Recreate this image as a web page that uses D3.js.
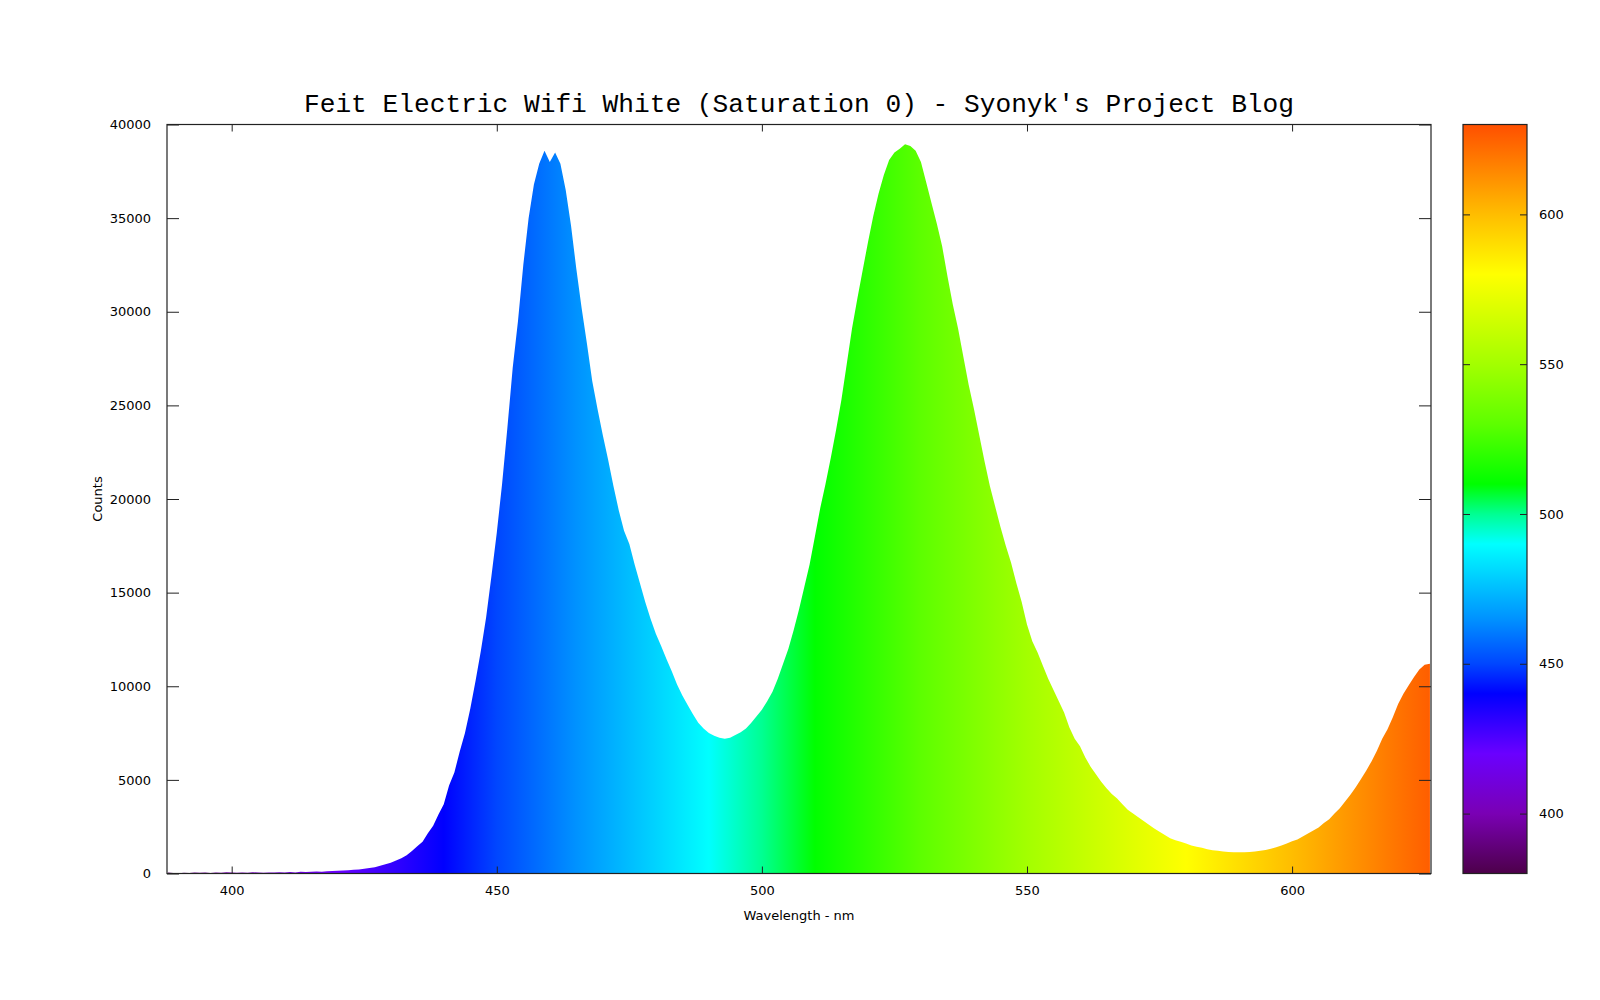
<!DOCTYPE html>
<html>
<head>
<meta charset="utf-8">
<script src="https://cdn.jsdelivr.net/npm/d3@7"></script>
<style>
  html, body { margin: 0; padding: 0; background: #ffffff; }
  svg { display: block; }
</style>
</head>
<body>
<svg id="chart" width="1600" height="1000"></svg>
<script>
// ---------- data ----------
const wavelengths = [
  388,389,390,391,392,393,394,395,396,397,398,399,
  400,401,402,403,404,405,406,407,408,409,410,411,412,413,414,415,416,417,418,419,
  420,421,422,423,424,425,426,427,428,429,430,431,432,433,434,435,436,437,438,439,
  440,441,442,443,444,445,446,447,448,449,450,451,452,453,454,455,456,457,458,459,
  460,461,462,463,464,465,466,467,468,469,470,471,472,473,474,475,476,477,478,479,
  480,481,482,483,484,485,486,487,488,489,490,491,492,493,494,495,496,497,498,499,
  500,501,502,503,504,505,506,507,508,509,510,511,512,513,514,515,516,517,518,519,
  520,521,522,523,524,525,526,527,528,529,530,531,532,533,534,535,536,537,538,539,
  540,541,542,543,544,545,546,547,548,549,550,551,552,553,554,555,556,557,558,559,
  560,561,562,563,564,565,566,567,568,569,570,571,572,573,574,575,576,577,578,579,
  580,581,582,583,584,585,586,587,588,589,590,591,592,593,594,595,596,597,598,599,
  600,601,602,603,604,605,606,607,608,609,610,611,612,613,614,615,616,617,618,619,
  620,621,622,623,624,625,626
];
const counts = [
  50,30,20,40,30,60,40,50,30,60,40,70,
  50,40,60,40,70,50,40,60,50,70,60,80,60,90,80,100,110,100,120,140,
  150,160,180,200,220,260,300,340,420,500,580,700,820,980,1200,1450,1700,2150,2550,3150,
  3700,4700,5400,6500,7500,8800,10300,11900,13700,15900,18200,20800,23800,27000,29500,32500,35000,36800,37900,38600,
  38000,38500,37900,36500,34600,32300,30200,28300,26300,24800,23400,22100,20700,19400,18300,17600,16500,15500,14500,13600,
  12800,12150,11450,10800,10100,9500,9000,8500,8050,7750,7500,7350,7250,7200,7250,7400,7550,7750,8050,8400,
  8750,9200,9700,10400,11200,12000,13000,14100,15300,16500,18000,19500,20800,22200,23700,25300,27200,29100,30700,32200,
  33700,35100,36300,37300,38100,38500,38700,38950,38850,38600,38000,36900,35800,34700,33500,31900,30400,29100,27600,26100,
  24800,23400,22000,20700,19600,18500,17500,16600,15500,14500,13300,12400,11800,11100,10400,9800,9200,8600,7800,7200,
  6800,6200,5700,5300,4900,4550,4250,4000,3700,3400,3200,3000,2800,2600,2400,2230,2050,1880,1780,1700,
  1600,1500,1430,1370,1290,1240,1210,1180,1150,1140,1130,1140,1150,1180,1220,1260,1320,1400,1500,1600,
  1720,1820,1980,2130,2300,2450,2700,2900,3200,3480,3850,4200,4600,5050,5500,6000,6550,7200,7700,8350,
  9050,9600,10050,10500,10900,11150,11200
];
const xTickValues = [400, 450, 500, 550, 600];
const yTickValues = [0, 5000, 10000, 15000, 20000, 25000, 30000, 35000, 40000];
const cbTickValues = [400, 450, 500, 550, 600];
const paletteStops = [380, 400, 420, 440, 450, 465, 490, 500, 510, 530, 550, 580, 600, 630];
const paletteColors = ["#4d004a", "#7a00b4", "#6a00ff", "#0000ff", "#0046ff", "#0092ff", "#00ffff",
                       "#00ff92", "#00ff00", "#5dff00", "#a3ff00", "#ffff00", "#ffbd00", "#ff4f00"];
const titleText = "Feit Electric Wifi White (Saturation 0) - Syonyk's Project Blog";
const xLabel = "Wavelength - nm";
const yLabel = "Counts";

// ---------- layout ----------
const plot = { left: 167, right: 1431, top: 124.5, bottom: 873.5 };
const cb = { left: 1463, right: 1527 };

const svg = d3.select("#chart");
const x = d3.scaleLinear().domain([387.8, 626.2]).range([plot.left, plot.right]);
const y = d3.scaleLinear().domain([0, 40000]).range([plot.bottom, plot.top]);
const cbScale = d3.scaleLinear().domain([380, 630]).range([plot.bottom, plot.top]);
const cbDomain = cbScale.domain();

const defs = svg.append("defs");
// horizontal gradient for the spectrum fill
const gH = defs.append("linearGradient")
  .attr("id", "specGrad")
  .attr("gradientUnits", "userSpaceOnUse")
  .attr("x1", x(cbDomain[0])).attr("x2", x(cbDomain[1]))
  .attr("y1", 0).attr("y2", 0);
paletteStops.forEach((s, i) => {
  gH.append("stop")
    .attr("offset", (s - cbDomain[0]) / (cbDomain[1] - cbDomain[0]))
    .attr("stop-color", paletteColors[i]);
});
// vertical gradient for the colour box
const gV = defs.append("linearGradient")
  .attr("id", "cbGrad")
  .attr("gradientUnits", "userSpaceOnUse")
  .attr("x1", 0).attr("x2", 0)
  .attr("y1", cbScale(cbDomain[0])).attr("y2", cbScale(cbDomain[1]));
paletteStops.forEach((s, i) => {
  gV.append("stop")
    .attr("offset", (s - cbDomain[0]) / (cbDomain[1] - cbDomain[0]))
    .attr("stop-color", paletteColors[i]);
});

defs.append("clipPath").attr("id", "plotClip")
  .append("rect")
  .attr("x", plot.left).attr("y", plot.top)
  .attr("width", plot.right - plot.left).attr("height", plot.bottom - plot.top);

// ---------- spectrum area ----------
const data = wavelengths.map((w, i) => ({ w, c: counts[i] }));
const area = d3.area()
  .x(d => x(d.w))
  .y0(y(0))
  .y1(d => y(d.c))
  .curve(d3.curveLinear);

svg.append("path")
  .datum(data)
  .attr("clip-path", "url(#plotClip)")
  .attr("d", area)
  .attr("fill", "url(#specGrad)");

// ---------- axes (gnuplot-like: ticks inside, mirrored) ----------
const axisColor = "#222";
const fontSans = "'DejaVu Sans', Verdana, sans-serif";

function styleAxis(g) {
  g.select(".domain").remove();
  g.selectAll(".tick line").attr("stroke", axisColor).attr("stroke-width", 1);
  g.selectAll(".tick text").attr("fill", "#000").attr("font-family", fontSans).attr("font-size", 13);
}

// bottom
svg.append("g")
  .attr("transform", `translate(0,${plot.bottom})`)
  .call(d3.axisBottom(x).tickValues(xTickValues).tickSize(-7).tickPadding(12).tickFormat(d3.format("d")))
  .call(styleAxis);
// top (mirror, no labels)
svg.append("g")
  .attr("transform", `translate(0,${plot.top})`)
  .call(d3.axisTop(x).tickValues(xTickValues).tickSize(-7).tickFormat(""))
  .call(styleAxis);
// left
svg.append("g")
  .attr("transform", `translate(${plot.left},0)`)
  .call(d3.axisLeft(y).tickValues(yTickValues).tickSize(-12).tickPadding(16).tickFormat(d3.format("d")))
  .call(styleAxis);
// right (mirror)
svg.append("g")
  .attr("transform", `translate(${plot.right},0)`)
  .call(d3.axisRight(y).tickValues(yTickValues).tickSize(-12).tickFormat(""))
  .call(styleAxis);

// border
svg.append("rect")
  .attr("x", plot.left).attr("y", plot.top)
  .attr("width", plot.right - plot.left).attr("height", plot.bottom - plot.top)
  .attr("fill", "none").attr("stroke", axisColor).attr("stroke-width", 1.2);

// ---------- colour box ----------
svg.append("rect")
  .attr("x", cb.left).attr("y", plot.top)
  .attr("width", cb.right - cb.left).attr("height", plot.bottom - plot.top)
  .attr("fill", "url(#cbGrad)");

svg.append("g")
  .attr("transform", `translate(${cb.left},0)`)
  .call(d3.axisLeft(cbScale).tickValues(cbTickValues).tickSize(-7).tickFormat(""))
  .call(styleAxis);
svg.append("g")
  .attr("transform", `translate(${cb.right},0)`)
  .call(d3.axisRight(cbScale).tickValues(cbTickValues).tickSize(-7).tickPadding(20).tickFormat(d3.format("d")))
  .call(styleAxis)
  .call(g => g.selectAll(".tick text").attr("x", 12).attr("text-anchor", "start"));

svg.append("rect")
  .attr("x", cb.left).attr("y", plot.top)
  .attr("width", cb.right - cb.left).attr("height", plot.bottom - plot.top)
  .attr("fill", "none").attr("stroke", axisColor).attr("stroke-width", 1.2);

// ---------- labels ----------
svg.append("text")
  .attr("x", (plot.left + plot.right) / 2)
  .attr("y", 111.5)
  .attr("text-anchor", "middle")
  .attr("font-family", "'Liberation Mono', 'Courier New', monospace")
  .attr("font-size", 26.2)
  .attr("fill", "#000")
  .text(titleText);

svg.append("text")
  .attr("x", (plot.left + plot.right) / 2)
  .attr("y", 919.5)
  .attr("text-anchor", "middle")
  .attr("font-family", fontSans)
  .attr("font-size", 13)
  .attr("fill", "#000")
  .text(xLabel);

svg.append("text")
  .attr("transform", `translate(102,499) rotate(-90)`)
  .attr("text-anchor", "middle")
  .attr("font-family", fontSans)
  .attr("font-size", 13)
  .attr("fill", "#000")
  .text(yLabel);
</script>
</body>
</html>
